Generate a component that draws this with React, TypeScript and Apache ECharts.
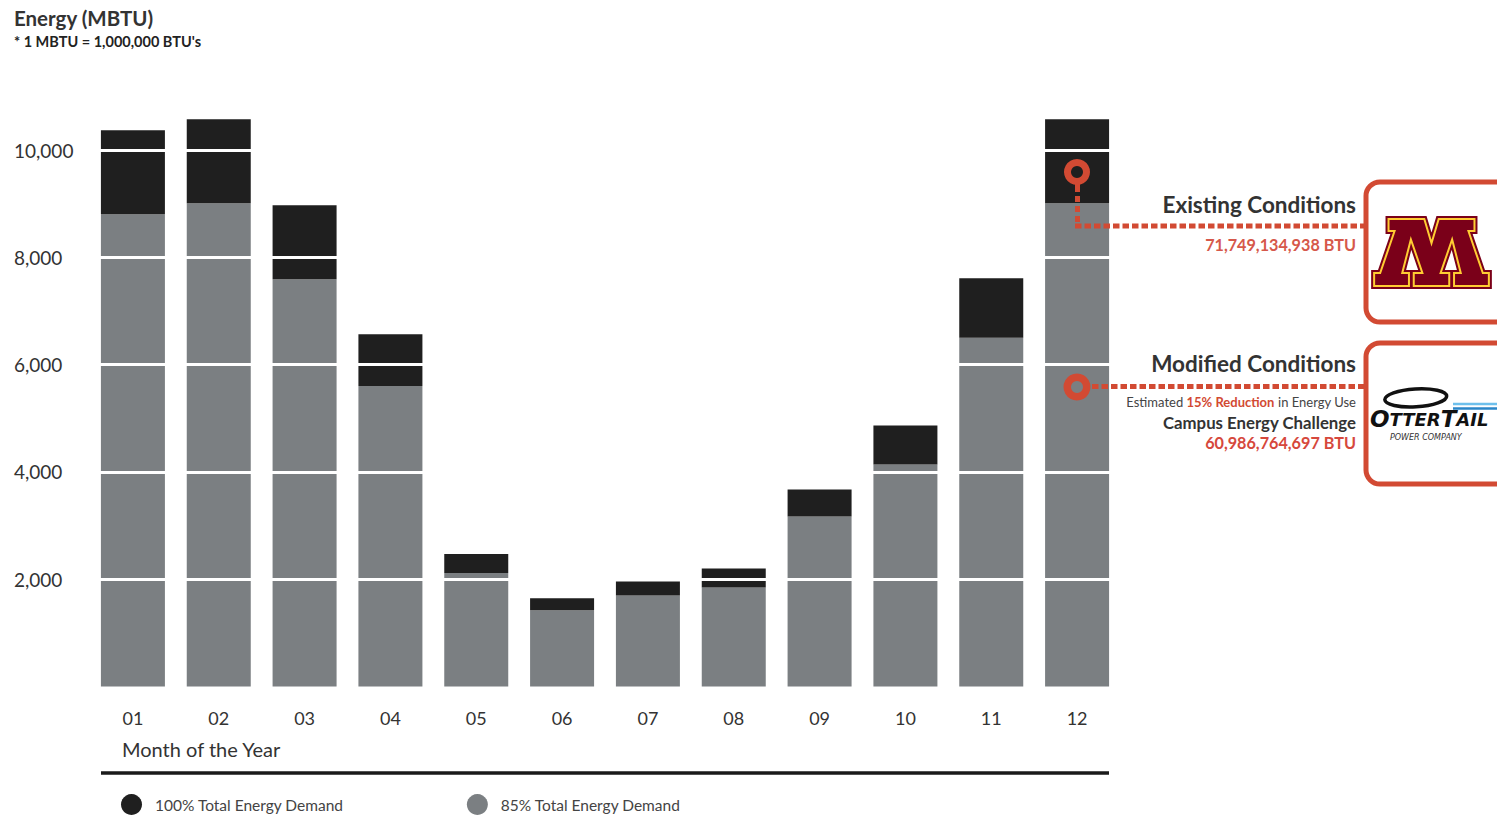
import React, { useEffect, useRef } from "react";
import * as echarts from "echarts";

const months = ["01", "02", "03", "04", "05", "06", "07", "08", "09", "10", "11", "12"];
const totalDemand = [10368, 10573, 8970, 6564, 2470, 1645, 1955, 2200, 3674, 4867, 7608, 10573];
const reducedDemand = [8802, 9007, 7590, 5600, 2115, 1420, 1697, 1846, 3170, 4140, 6500, 9007];
const yTicks = [2000, 4000, 6000, 8000, 10000];
const seriesNames = ["100% Total Energy Demand", "85% Total Energy Demand"];

const FONT = "Lato, 'Open Sans', sans-serif";
const RED = "#d24a33";
const MAROON = "#7a0019";
const GOLD = "#ffcc33";

// Block "M" outline (logo shape, in a 123 x 72 box)
const mShape: number[][] = [
  [16.7, 0], [54, 0], [61.5, 26], [69, 0], [106.3, 0], [106.3, 13], [100, 13], [115, 58], [121.3, 58],
  [121.3, 72], [85, 72], [85, 58], [92, 58], [83, 22], [71, 58], [80, 58], [80, 72], [43, 72],
  [43, 58], [52, 58], [40, 22], [31, 58], [38, 58], [38, 72], [1.7, 72], [1.7, 58], [8, 58],
  [23, 13], [16.7, 13],
];

export default function App() {
  const ref = useRef<HTMLDivElement>(null);
  useEffect(() => {
    const chart = echarts.init(ref.current!, null, { renderer: "svg" });
    const diff = totalDemand.map((t, i) => t - reducedDemand[i]);
    const mPts = mShape.map(([x, y]) => [1372.5 + x * (118 / 123), 219 + y * (67 / 72)]);
    const option: any = {
      animation: false,
      backgroundColor: "#fff",
      title: {
        text: "Energy (MBTU)",
        subtext: "* 1 MBTU = 1,000,000 BTU's",
        left: 14,
        top: 7,
        padding: 0,
        itemGap: 6,
        textStyle: { fontFamily: FONT, fontSize: 20.5, fontWeight: "bold", color: "#333" },
        subtextStyle: { fontFamily: FONT, fontSize: 14.5, fontWeight: "bold", color: "#222" },
      },
      legend: {
        data: seriesNames,
        left: 121,
        top: 794,
        padding: 0,
        icon: "circle",
        itemWidth: 21,
        itemHeight: 21,
        itemGap: 123,
        textStyle: { fontFamily: FONT, fontSize: 15.5, color: "#444", padding: [0, 0, 0, 8] },
      },
      grid: { left: 90, right: 377, top: 96.4, bottom: 815 - 686.5 },
      xAxis: {
        type: "category",
        data: months,
        axisLine: { show: false },
        axisTick: { show: false },
        axisLabel: { fontFamily: FONT, fontSize: 18, color: "#333", margin: 22 },
      },
      yAxis: {
        type: "value",
        min: 0,
        max: 11000,
        interval: 2000,
        splitLine: { show: false },
        axisLine: { show: false },
        axisTick: { show: false },
        axisLabel: {
          align: "left",
          margin: 76,
          fontFamily: FONT,
          fontSize: 19,
          color: "#333",
          formatter: (v: number) => (yTicks.indexOf(v) >= 0 ? v.toLocaleString("en-US") : ""),
        },
      },
      series: [
        {
          name: seriesNames[1],
          type: "bar",
          stack: "energy",
          barWidth: 64,
          itemStyle: { color: "#7b7f82" },
          data: reducedDemand,
        },
        {
          name: seriesNames[0],
          type: "bar",
          stack: "energy",
          barWidth: 64,
          itemStyle: { color: "#1f1f1f" },
          data: diff,
          markLine: {
            silent: true,
            symbol: ["none", "none"],
            label: { show: false },
            lineStyle: { color: "#ffffff", width: 3, type: "solid" },
            data: yTicks.map((v) => ({ yAxis: v })),
          },
        },
      ],
      graphic: [
        { type: "text", z: 100, style: { text: "Month of the Year", x: 122, y: 749, verticalAlign: "middle", fontFamily: FONT, fontSize: 20, fill: "#333" } },
        { type: "line", z: 100, shape: { x1: 101, y1: 773, x2: 1109, y2: 773 }, style: { stroke: "#1a1a1a", lineWidth: 3.5 } },
        // Existing conditions pin
        { type: "ring", z: 100, shape: { cx: 1077, cy: 172, r: 13, r0: 6 }, style: { fill: RED } },
        { type: "rect", z: 100, shape: { x: 1075, y: 184, width: 5, height: 8 }, style: { fill: RED } },
        { type: "line", z: 100, shape: { x1: 1077.5, y1: 196, x2: 1077.5, y2: 223 }, style: { stroke: RED, lineWidth: 5, lineDash: [6, 4] } },
        { type: "line", z: 100, shape: { x1: 1075, y1: 226, x2: 1366, y2: 226 }, style: { stroke: RED, lineWidth: 5, lineDash: [6.5, 3] } },
        { type: "text", z: 100, style: { text: "Existing Conditions", x: 1356, y: 204, align: "right", verticalAlign: "middle", fontFamily: FONT, fontSize: 22.5, fontWeight: "bold", fill: "#333" } },
        { type: "text", z: 100, style: { text: "71,749,134,938 BTU", x: 1356, y: 244, align: "right", verticalAlign: "middle", fontFamily: FONT, fontSize: 16.2, fontWeight: "bold", fill: "#d6584a" } },
        { type: "rect", z: 100, shape: { x: 1366, y: 182, width: 200, height: 140, r: 14 }, style: { fill: "#fff", stroke: RED, lineWidth: 5 } },
        { type: "polygon", z: 101, shape: { points: mPts }, style: { fill: MAROON, stroke: MAROON, lineWidth: 6, lineJoin: "miter" } },
        { type: "polygon", z: 102, shape: { points: mPts }, style: { fill: MAROON, stroke: GOLD, lineWidth: 2, lineJoin: "miter" } },
        // Modified conditions pin
        { type: "ring", z: 100, shape: { cx: 1077, cy: 387, r: 13.5, r0: 6 }, style: { fill: RED } },
        { type: "line", z: 100, shape: { x1: 1092, y1: 386.5, x2: 1366, y2: 386.5 }, style: { stroke: RED, lineWidth: 5, lineDash: [6.5, 3] } },
        { type: "text", z: 100, style: { text: "Modified Conditions", x: 1356, y: 363, align: "right", verticalAlign: "middle", fontFamily: FONT, fontSize: 22.5, fontWeight: "bold", fill: "#333" } },
        {
          type: "text", z: 100,
          style: {
            text: "{n|Estimated }{r|15% Reduction}{n| in Energy Use}",
            x: 1356, y: 402, align: "right", verticalAlign: "middle",
            rich: {
              n: { fontFamily: FONT, fontSize: 13, fill: "#444", color: "#444" },
              r: { fontFamily: FONT, fontSize: 13, fontWeight: "bold", fill: RED, color: RED },
            },
          },
        },
        { type: "text", z: 100, style: { text: "Campus Energy Challenge", x: 1356, y: 422, align: "right", verticalAlign: "middle", fontFamily: FONT, fontSize: 16.8, fontWeight: "bold", fill: "#333" } },
        { type: "text", z: 100, style: { text: "60,986,764,697 BTU", x: 1356, y: 442, align: "right", verticalAlign: "middle", fontFamily: FONT, fontSize: 16.2, fontWeight: "bold", fill: "#d6483c" } },
        { type: "rect", z: 100, shape: { x: 1366, y: 343, width: 200, height: 141, r: 14 }, style: { fill: "#fff", stroke: RED, lineWidth: 5 } },
        // OtterTail logo
        { type: "ellipse", z: 101, shape: { cx: 1416, cy: 398, rx: 31, ry: 9 }, rotation: 0.06, originX: 1416, originY: 398, style: { fill: "none", stroke: "#111", lineWidth: 3.5 } },
        { type: "line", z: 101, shape: { x1: 1453, y1: 404, x2: 1497, y2: 404 }, style: { stroke: "#6ec0ec", lineWidth: 2.5 } },
        { type: "line", z: 101, shape: { x1: 1453, y1: 408.5, x2: 1497, y2: 408.5 }, style: { stroke: "#2a86c8", lineWidth: 2.5 } },
        {
          type: "text", z: 101,
          style: {
            text: "{b|O}{s|TTER}{b|T}{s|AIL}",
            x: 1370, y: 419, verticalAlign: "middle",
            rich: {
              b: { fontFamily: "'DejaVu Sans', sans-serif", fontSize: 23, lineHeight: 20, fontWeight: "bold", fontStyle: "italic", fill: "#111", color: "#111" },
              s: { fontFamily: "'DejaVu Sans', sans-serif", fontSize: 18, lineHeight: 20, fontWeight: "bold", fontStyle: "italic", fill: "#111", color: "#111" },
            },
          },
        },
        { type: "text", z: 101, style: { text: "POWER COMPANY", x: 1390, y: 437.5, verticalAlign: "middle", fontFamily: "'DejaVu Sans', sans-serif", fontSize: 8, fontStyle: "italic", fill: "#333" } },
      ],
    };
    chart.setOption(option);
    return () => chart.dispose();
  }, []);
  return <div ref={ref} style={{ position: "fixed", left: 0, top: 0, width: 1497, height: 815 }} />;
}
